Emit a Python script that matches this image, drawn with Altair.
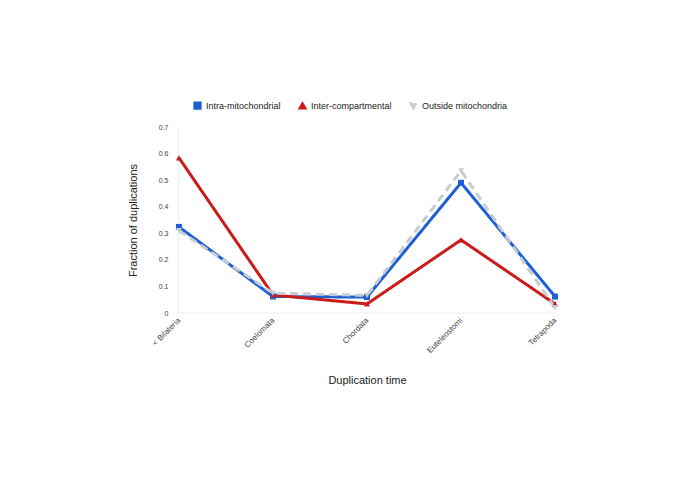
import altair as alt
import pandas as pd

categories = ["< Bilateria", "Coelomata", "Chordata", "Euteleostomi", "Tetrapoda"]
series = ["Intra-mitochondrial", "Inter-compartmental", "Outside mitochondria"]
intra = [0.324, 0.062, 0.060, 0.490, 0.062]
inter = [0.584, 0.068, 0.034, 0.275, 0.034]
outside = [0.310, 0.075, 0.066, 0.535, 0.020]
colors = ["#1f5fd6", "#cc1a1a", "#c5ccd2"]
shapes = ["square", "triangle-up", "triangle-down"]
dashes = [[1, 0], [1, 0], [8, 5]]
yticks = [0, 0.1, 0.2, 0.3, 0.4, 0.5, 0.6, 0.7]

order_rank = {series[2]: 0, series[1]: 1, series[0]: 2}
rows = []
for s, vals in zip(series, [intra, inter, outside]):
    for c, v in zip(categories, vals):
        rows.append({"time": c, "series": s, "value": v, "series_order": order_rank[s]})
df = pd.DataFrame(rows)

font = "Liberation Sans"
yscale = alt.Scale(domain=[0, 0.7], nice=False, zero=True)
yaxis = alt.Axis(values=yticks, format="~g",
                 labelFontSize=7, labelColor="#444", labelFont=font,
                 labelOverlap=False, labelFlush=False,
                 ticks=False, domain=True, domainColor="#f0f0f0",
                 grid=False,
                 titleFontSize=11, titleFontWeight="normal", titleFont=font,
                 titleColor="#222", titlePadding=20, labelPadding=10)
ytitle = "Fraction of duplications"
x = alt.X("time:N", sort=categories, title="Duplication time",
          scale=alt.Scale(type="point", padding=0.01),
          axis=alt.Axis(labelAngle=-45, labelAlign="right", labelBaseline="middle",
                        labelFontSize=8, labelColor="#444", labelFont=font,
                        ticks=False, domain=False, grid=False, labelPadding=6,
                        labelOverlap=False, labelBound=False, labelFlush=False,
                        titleFontSize=11, titleFontWeight="normal", titleFont=font,
                        titleColor="#222", titlePadding=20))
y = alt.Y("value:Q", title=ytitle, scale=yscale, axis=yaxis)
color = alt.Color("series:N", sort=series,
                  scale=alt.Scale(domain=series, range=colors),
                  legend=alt.Legend(orient="none", legendX=15, legendY=-26,
                                    direction="horizontal", title=None,
                                    labelFontSize=9, labelFont=font, labelColor="#222",
                                    symbolSize=40, columnPadding=14, symbolStrokeWidth=2))
shape = alt.Shape("series:N", sort=series, scale=alt.Scale(domain=series, range=shapes), legend=None)
dash = alt.StrokeDash("series:N", sort=series, scale=alt.Scale(domain=series, range=dashes), legend=None)

zero = alt.Chart(pd.DataFrame({"v": [0]})).mark_rule(color="#eeeeee").encode(
    y=alt.Y("v:Q", scale=yscale, axis=yaxis, title=ytitle))
lines = alt.Chart(df).mark_line(strokeWidth=3).encode(
    x=x, y=y, color=color, strokeDash=dash, detail="series:N",
    order=alt.Order("series_order:Q"))
points = alt.Chart(df).mark_point(filled=True, size=36, opacity=1).encode(
    x=x, y=y, color=color, shape=shape)

chart = alt.layer(zero, lines, points).properties(
    width=378, height=186,
    autosize=alt.AutoSizeParams(type="none"),
    padding={"left": 170, "top": 119, "right": 120, "bottom": 160},
    background="white",
).configure_view(stroke=None)

chart.save("out.html", embed_options={"renderer": "svg", "actions": False})
